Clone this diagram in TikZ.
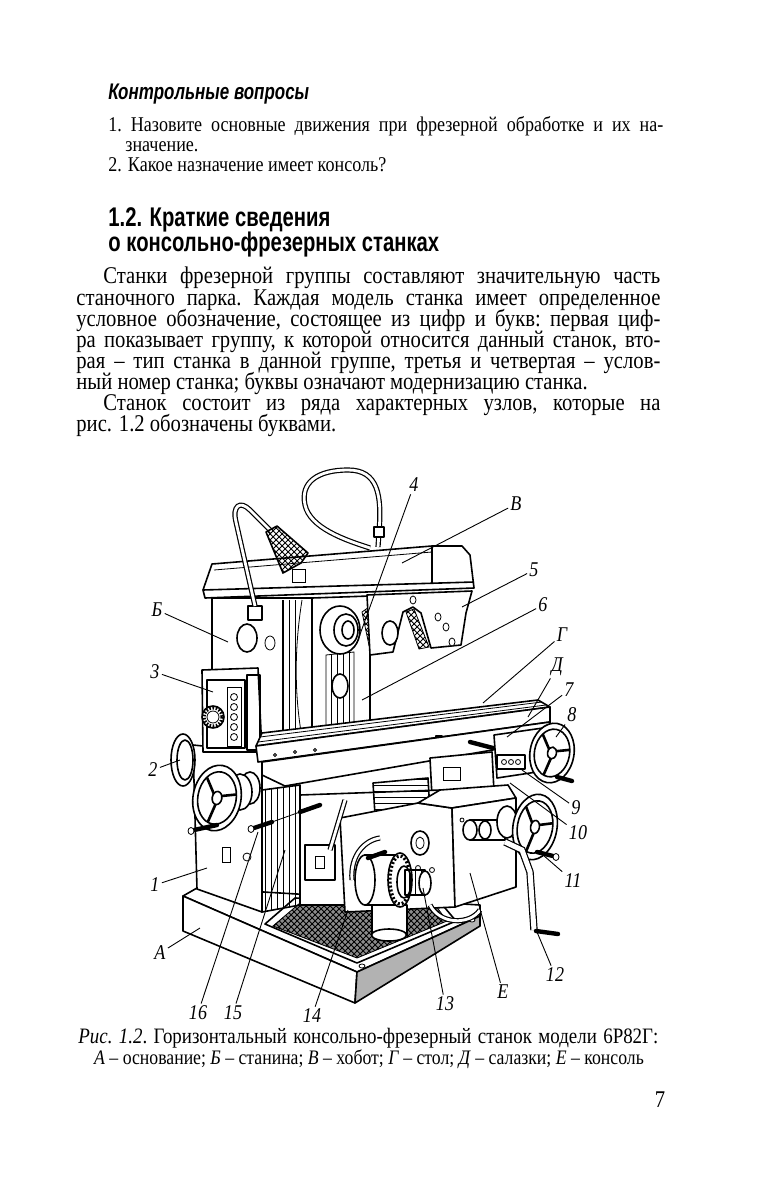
\documentclass[tikz,border=0pt]{standalone}
\usepackage{fontspec}
\setmainfont{Liberation Serif}[FakeStretch=0.86]
\newfontfamily\hfont{Liberation Sans}[FakeStretch=0.75]
\usetikzlibrary{patterns}
\newcommand\jline[2]{\hbox to #1{\frenchspacing\spaceskip=.28em plus 3em minus .1em\relax #2}}
\newcommand\hwheel[5]{%
  \begin{scope}[shift={(#1)},rotate=#4]
    \draw[ol] (0,0) ellipse [x radius=#2, y radius=#3];
    \draw[ln] (0,0) ellipse [x radius=#2*0.8, y radius=#3*0.8];
    \foreach \a in {90,210,330}{\draw[line width=1.3pt] (\a:{#2*0.15} and {#3*0.15}) -- (\a+#5:{#2*0.8} and {#3*0.8});}
    \draw[ln,fill=white] (0,0) ellipse [x radius=#2*0.2, y radius=#3*0.2];
  \end{scope}}
\begin{document}
\begin{tikzpicture}[x=0.5pt,y=-0.5pt,
  ol/.style={draw=black,line width=0.8pt,line join=round,fill=white},
  ln/.style={draw=black,line width=0.8pt,line join=round},
  tn/.style={draw=black,line width=0.4pt},
  lead/.style={draw=black,line width=0.45pt},
  lab/.style={font=\fontsize{10.5}{10.5}\selectfont\itshape,inner sep=1pt},
  rod/.style={draw=black,line width=2.2pt,line cap=round},
  cable/.style={draw=black,double=white,line width=0.6pt,double distance=1.4pt},
  txt/.style={anchor=base west,inner sep=0pt}]
\useasboundingbox (0,0) rectangle (756,1182);
\fill[white] (0,0) rectangle (756,1182);

% ---------- text above the figure ----------
\node[txt] (h1) at (108,100) {\hfont\bfseries\itshape\fontsize{11.3}{12}\selectfont Контрольные вопросы};
\node[txt] (q1) at (108,132) {\fontsize{10.5}{12}\selectfont\jline{277.5pt}{1. Назовите основные движения при фрезерной обработке и их на-}};
\node[txt] (q1b) at (125,152) {\fontsize{10.5}{12}\selectfont значение.};
\node[txt] (q2) at (108,172) {\fontsize{10.5}{12}\selectfont 2. Какое назначение имеет консоль?};
\node[txt] (s1) at (108,227) {\hfont\bfseries\fontsize{13.5}{14}\selectfont 1.2. Краткие сведения};
\node[txt] (s2) at (108,251) {\hfont\bfseries\fontsize{13.5}{14}\selectfont о консольно-фрезерных станках};

\node[txt] (b1) at (103,284) {\fontsize{12}{13}\selectfont\jline{278.5pt}{Станки фрезерной группы составляют значительную часть}};
\node[txt] (b2) at (76,305) {\fontsize{12}{13}\selectfont\jline{292pt}{станочного парка. Каждая модель станка имеет определенное}};
\node[txt] (b3) at (76,326) {\fontsize{12}{13}\selectfont\jline{292pt}{условное обозначение, состоящее из цифр и букв: первая циф-}};
\node[txt] (b4) at (76,347) {\fontsize{12}{13}\selectfont\jline{292pt}{ра показывает группу, к которой относится данный станок, вто-}};
\node[txt] (b5) at (76,368) {\fontsize{12}{13}\selectfont\jline{292pt}{рая – тип станка в данной группе, третья и четвертая – услов-}};
\node[txt] (b6) at (76,389) {\fontsize{12}{13}\selectfont ный номер станка; буквы означают модернизацию станка.};
\node[txt] (b7) at (103,410) {\fontsize{12}{13}\selectfont\jline{278.5pt}{Станок состоит из ряда характерных узлов, которые на}};
\node[txt] (b8) at (76,431) {\fontsize{12}{13}\selectfont рис. 1.2 обозначены буквами.};

% ---------- figure ----------
% base
\draw[ol] (183,896) -- (197,888) -- (480,905) -- (480,916) -- (357,972) -- cycle;
\draw[ol] (183,896) -- (357,972) -- (355,1003) -- (183,931) -- cycle;
\draw[ln,fill=black!30] (357,972) -- (480,916) -- (480,926) -- (355,1003) -- cycle;
\draw[ln] (265,924) -- (357,963) -- (456,921) -- (440,902) -- (295,898) -- cycle;
\draw[tn,fill=black!45] (273,926) -- (357,958) -- (447,921) -- (436,906) -- (300,903) -- cycle;
\fill[pattern=crosshatch] (273,926) -- (357,958) -- (447,921) -- (436,906) -- (300,903) -- cycle;
\draw[tn,fill=white] (362,966) ellipse [x radius=3, y radius=2];
\draw[tn,fill=white] (472,920) ellipse [x radius=3, y radius=2];

% column lower
\draw[ol] (193,745) -- (262,752) -- (262,912) -- (197,889) -- cycle;
\draw[tn] (222,847) rectangle (230,862);
\draw[tn,fill=white] (247,857) circle [radius=4];
\draw[ln,pattern=vertical lines] (262,790) -- (300,785) -- (300,905) -- (262,912) -- cycle;

% column upper
\draw[ol] (212,598) -- (312,598) -- (312,752) -- (212,752) -- cycle;
\draw[ol] (312,598) -- (370,596) -- (370,745) -- (312,752) -- cycle;
\fill[pattern=vertical lines] (283,600) rectangle (298,748);
\draw[tn] (282,600) -- (282,748);
\draw[tn] (302,600) .. controls (294,650) and (294,700) .. (304,748);
\draw[ln,fill=white] (247,638) ellipse [x radius=10, y radius=14];
\draw[tn,fill=white] (270,643) ellipse [x radius=5, y radius=7];
\draw[tn,pattern=vertical lines] (326,655) -- (354,652) -- (354,725) -- (326,728) -- cycle;
\draw[ln,fill=white] (340,686) ellipse [x radius=8, y radius=12];
\draw[tn,pattern=crosshatch] (362,612) -- (372,605) -- (382,645) -- (370,650) -- cycle;
\draw[ln,fill=white] (340,630) ellipse [x radius=20, y radius=24];
\draw[ln,fill=white] (346,630) ellipse [x radius=12, y radius=16];
\draw[ln] (348,630) ellipse [x radius=6, y radius=9];

% overarm
\draw[ol] (203,590) -- (212,564) -- (432,546) -- (462,546) -- (470,555) -- (474,588) -- (205,598) -- cycle;
\draw[ln] (203,590) -- (474,582);
\draw[tn] (214,570) -- (432,552);
\draw[ln] (432,546) -- (432,584);
\draw[tn] (292,569) rectangle (305,582);

% pendant (arbor support)
\draw[ol] (367,595) -- (472,591) -- (466,613) -- (461,645) -- (431,648) -- (421,613) -- (413,607) -- (403,612) -- (393,652) -- (370,655) -- cycle;
\draw[tn,pattern=crosshatch] (406,612) -- (414,609) -- (429,647) -- (419,649) -- cycle;
\draw[ln,fill=white] (390,633) ellipse [x radius=8, y radius=12];
\foreach \p in {(438,617),(446,627),(452,642),(413,600)}{\draw[tn,fill=white] \p ellipse [x radius=3, y radius=4];}

% lamp
\draw[ln,fill=white] (248,606) rectangle (262,620);
\draw[cable] (255,606) -- (236,522) .. controls (232,506) and (240,500) .. (250,510) -- (272,532);
\draw[ln,pattern=crosshatch] (266,532) -- (277,526) -- (308,553) -- (301,563) -- (283,573) -- cycle;
% cable loop
\draw[cable] (378,547) -- (379,532) .. controls (382,495) and (378,470) .. (348,470) .. controls (318,470) and (300,482) .. (305,505) .. controls (310,528) and (345,540) .. (370,548);
\draw[ln,fill=white] (374,527) rectangle (384,537);

% rear wheel (2) and gearbox (3)
\draw[ol] (183,760) ellipse [x radius=12, y radius=26];
\draw[ln] (185,760) ellipse [x radius=8, y radius=20];
\draw[ol] (202,670) -- (258,668) -- (262,752) -- (203,752) -- cycle;
\draw[ln] (207,680) rectangle (245,748);
\draw[tn] (227,687) rectangle (241,746);
\foreach \yy in {697,707,717,727,737}{\draw[tn,fill=white] (234,\yy) circle [radius=3.5];}
\draw[ln] (247,675) rectangle (260,750);
\draw[ln,fill=white] (213,717) circle [radius=11];
\draw[line width=1.5pt,dash pattern=on 0.8pt off 0.8pt] (213,717) circle [radius=9];
\draw[tn,fill=white] (213,717) circle [radius=6];

% table
\draw[ol] (256,746) -- (262,733) -- (538,700) -- (550,707) -- cycle;
\draw[tn] (260,737) -- (542,702);
\draw[tn] (258,742) -- (546,705);
\draw[ol] (256,746) -- (550,707) -- (550,722) -- (258,762) -- cycle;
\foreach \xx/\yy in {275/755,295/752,315/750}{\draw[tn,fill=white] (\xx,\yy) circle [radius=1.5];}
\draw[ln,fill=white] (436,736) rectangle (442,746);

% saddle and cross slide
\draw[ol] (262,762) -- (550,722) -- (550,740) -- (285,786) -- (262,775) -- cycle;
\draw[ol] (494,735) -- (550,727) -- (550,770) -- (497,778) -- cycle;
\draw[ln] (497,755) rectangle (525,769);
\foreach \xx in {504,511,518}{\draw[tn,fill=white] (\xx,762) circle [radius=2.5];}
\draw[rod] (470,742) -- (493,748);

% boxes under saddle
\draw[ol] (430,758) -- (492,752) -- (494,792) -- (432,797) -- cycle;
\draw[tn] (443,767) rectangle (460,780);
\draw[ol] (300,795) -- (440,790) -- (452,808) -- (452,905) -- (300,905) -- cycle;
\draw[ln,pattern=horizontal lines] (373,783) -- (428,778) -- (430,812) -- (375,815) -- cycle;
\draw[ln] (305,845) rectangle (335,880);
\draw[tn] (315,856) rectangle (324,868);

% knee (E)
\draw[ol] (340,818) -- (418,803) -- (452,808) -- (455,907) -- (345,912) -- cycle;
\draw[ol] (418,803) -- (440,790) -- (508,785) -- (516,798) -- (452,808) -- cycle;
\draw[ol] (452,808) -- (516,798) -- (516,887) -- (455,907) -- cycle;
\draw[ln,fill=white] (420,843) ellipse [x radius=9, y radius=12];
\draw[tn] (420,843) ellipse [x radius=4, y radius=6];
\draw[tn,fill=white] (418,868) circle [radius=2.5];
\draw[tn,fill=white] (432,870) circle [radius=2.5];
\draw[tn,fill=white] (462,820) circle [radius=2];
\draw[cable] (430,905) .. controls (440,925) and (470,925) .. (480,910);

% elevating screw assembly
\draw[cable] (352,880) .. controls (350,855) and (365,840) .. (380,838);
\draw[ol] (372,905) rectangle (407,935);
\draw[ol] (389,935) ellipse [x radius=17.5, y radius=6];
\draw[ol] (365,855) rectangle (400,905);
\draw[ol] (365,880) ellipse [x radius=10, y radius=25];
\draw[ln,fill=white] (400,880) ellipse [x radius=12, y radius=27];
\draw[line width=1.6pt,dash pattern=on 1pt off 1pt] (400,880) ellipse [x radius=10, y radius=24];
\draw[ln,fill=white] (404,882) ellipse [x radius=7, y radius=16];
\draw[ln,pattern=vertical lines] (405,870) rectangle (425,895);
\draw[ln,fill=white] (425,883) ellipse [x radius=6, y radius=12];
\draw[rod] (368,858) -- (385,852);

% handwheels
\draw[ol] (250,788) ellipse [x radius=10, y radius=16];
\draw[ol] (240,792) ellipse [x radius=12, y radius=18];
\hwheel{217,798}{24}{33}{-10}{15}
\hwheel{552,753}{22}{30}{-10}{15}
\draw[rod] (557,777) -- (572,781);
\draw[ol] (470,820) rectangle (505,840);
\draw[ol] (470,830) ellipse [x radius=7, y radius=10];
\draw[ol] (485,830) ellipse [x radius=6, y radius=9];
\draw[ol] (507,822) ellipse [x radius=10, y radius=16];
\hwheel{535,827}{22}{33}{-10}{15}

% crank and levers
\draw[cable,double distance=2.5pt] (505,842) -- (522,850) -- (530,872) -- (534,930);
\draw[rod] (536,931) -- (558,934);
\draw[rod] (537,852) -- (553,856);
\draw[tn,fill=white] (556,857) ellipse [x radius=3, y radius=3.5];
\draw[rod] (194,830) -- (217,825);
\draw[tn,fill=white] (191,831) ellipse [x radius=3, y radius=3.5];
\draw[rod] (254,828) -- (272,822);
\draw[tn,fill=white] (251,829) ellipse [x radius=3, y radius=3.5];
\draw[tn] (272,822) -- (300,812);
\draw[rod] (300,812) -- (320,805);
\draw[cable] (330,850) -- (345,800);

% ---------- labels and leaders ----------
\node[lab] (l4) at (414,485) {4};
\node[lab] (lV) at (516,504) {В};
\node[lab] (l5) at (534,570) {5};
\node[lab] (l6) at (543,605) {6};
\node[lab] (lB) at (157,610) {Б};
\node[lab] (lG) at (562,635) {Г};
\node[lab] (l3) at (155,672) {3};
\node[lab] (lD) at (557,667) {Д};
\node[lab] (l7) at (569,690) {7};
\node[lab] (l8) at (572,715) {8};
\node[lab] (l2) at (153,770) {2};
\node[lab] (l9) at (576,808) {9};
\node[lab] (l10) at (578,833) {10};
\node[lab] (l11) at (573,881) {11};
\node[lab] (l1) at (155,885) {1};
\node[lab] (l12) at (555,975) {12};
\node[lab] (lA) at (160,953) {А};
\node[lab] (lE) at (503,992) {Е};
\node[lab] (l13) at (445,1004) {13};
\node[lab] (l16) at (198,1013) {16};
\node[lab] (l15) at (233,1013) {15};
\node[lab] (l14) at (312,1016) {14};

\coordinate (p4) at (358,640);
\coordinate (pV) at (402,563);
\coordinate (p5) at (462,607);
\coordinate (p6) at (362,700);
\coordinate (pB) at (228,642);
\coordinate (pG) at (483,703);
\coordinate (p3) at (213,692);
\coordinate (pD) at (528,717);
\coordinate (p7) at (507,737);
\coordinate (p8) at (556,737);
\coordinate (p2) at (180,760);
\coordinate (p9) at (522,770);
\coordinate (p10) at (510,783);
\coordinate (p11) at (543,855);
\coordinate (p1) at (207,868);
\coordinate (p12) at (537,932);
\coordinate (pA) at (200,928);
\coordinate (pE) at (470,873);
\coordinate (p13) at (423,888);
\coordinate (p16) at (258,832);
\coordinate (p15) at (285,850);
\coordinate (p14) at (348,910);
\foreach \n in {4,V,5,6,B,G,3,D,7,8,2,9,10,11,1,12,A,E,13,16,15,14}{\draw[lead] (l\n) -- (p\n);}

% ---------- caption and page number ----------
\node[txt] (c1) at (78,1043) {\fontsize{11}{12}\selectfont\jline{290pt}{\textit{Рис. 1.2}. Горизонтальный консольно-фрезерный станок модели 6Р82Г:}};
\node[anchor=base,inner sep=0pt] (c2) at (369,1064) {\fontsize{10.3}{11}\selectfont \textit{А} – основание; \textit{Б} – станина; \textit{В} – хобот; \textit{Г} – стол; \textit{Д} – салазки; \textit{Е} – консоль};
\node[anchor=base,inner sep=0pt] (pg) at (660,1107) {\fontsize{12}{12}\selectfont 7};
\end{tikzpicture}
\end{document}
